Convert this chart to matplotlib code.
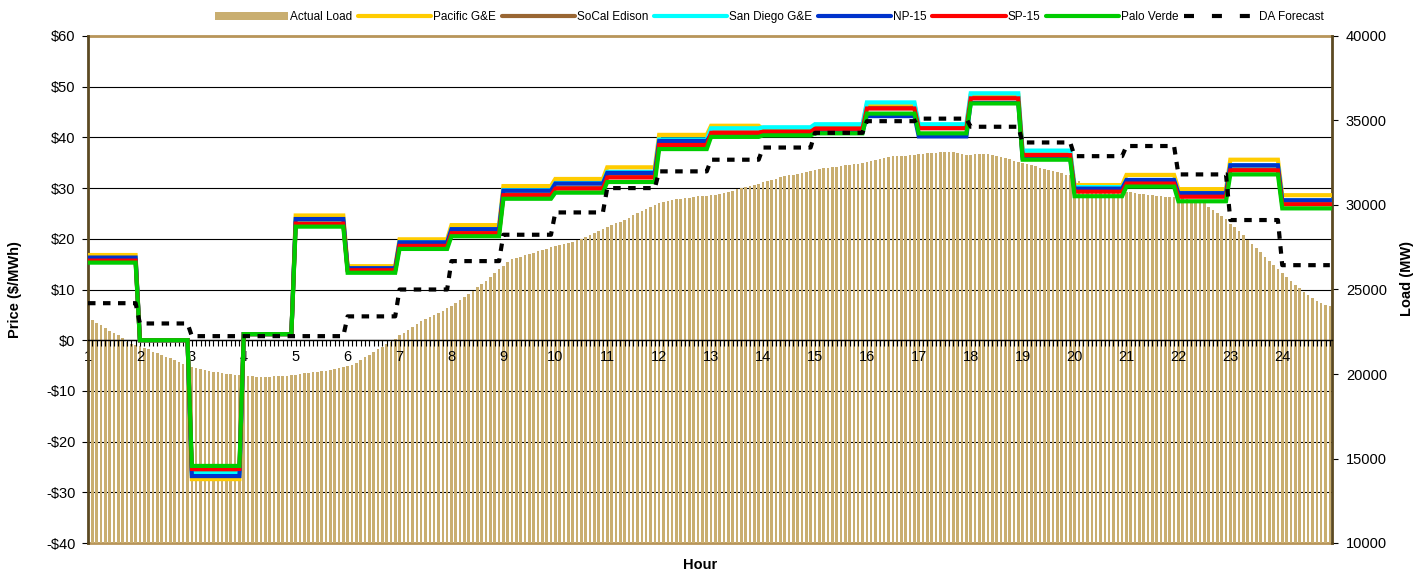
import numpy as np
import matplotlib
matplotlib.use("Agg")
import matplotlib.pyplot as plt
from matplotlib.ticker import FixedLocator, MultipleLocator, FuncFormatter
from matplotlib.lines import Line2D
from matplotlib.patches import Patch

plt.rcParams['font.family'] = ['Liberation Sans', 'DejaVu Sans']

# hourly prices ($/MWh), hour 1..24
hours = list(range(1, 25))
pacific_ge = [16.8, 0.0, -27.4, 1.2, 24.6, 14.6, 19.9, 22.7, 30.4, 31.8, 34.1, 40.5,
              42.3, 41.6, 42.2, 46.5, 42.2, 48.3, 37.0, 30.6, 32.6, 29.8, 35.6, 28.6]
socal_edison = [15.9, 0.0, -25.7, 1.2, 23.2, 13.9, 18.8, 21.3, 28.8, 30.1, 32.3, 38.7,
                41.0, 41.2, 41.8, 45.8, 41.9, 47.8, 36.6, 29.5, 31.1, 28.5, 33.7, 27.0]
san_diego_ge = [16.2, 0.0, -26.3, 1.2, 23.6, 14.1, 19.3, 21.9, 29.6, 31.0, 33.2, 39.6,
                41.8, 42.0, 42.6, 46.9, 42.6, 48.7, 37.4, 30.2, 31.6, 29.0, 34.5, 27.6]
np_15 = [16.3, 0.0, -26.8, 1.2, 23.9, 14.2, 19.3, 21.9, 29.5, 30.9, 33.0, 39.3,
         40.5, 40.8, 41.0, 44.2, 40.2, 46.8, 35.9, 29.9, 31.6, 29.0, 34.5, 27.6]
sp_15 = [15.7, 0.0, -25.4, 1.2, 23.0, 13.8, 18.6, 21.1, 28.6, 29.9, 32.1, 38.5,
         40.9, 41.1, 41.7, 45.7, 41.8, 47.7, 36.5, 29.3, 30.9, 28.3, 33.5, 26.8]
palo_verde = [15.3, 0.0, -24.8, 1.2, 22.4, 13.3, 18.0, 20.5, 27.9, 29.1, 31.2, 37.7,
              40.1, 40.4, 40.8, 44.7, 40.8, 46.7, 35.6, 28.4, 30.3, 27.4, 32.7, 26.0]
da_forecast = [7.3, 3.3, 0.8, 0.8, 0.8, 4.7, 10.0, 15.6, 20.8, 25.2, 30.0, 33.3,
               35.6, 38.0, 40.9, 43.2, 43.7, 42.1, 39.0, 36.3, 38.3, 32.7, 23.7, 14.8]

# actual load (MW), 5-minute intervals, 12 per hour
actual_load = [
    23310, 23200, 23040, 22900, 22700, 22540, 22440, 22310, 22130, 21910, 21800, 21720,
    21660, 21560, 21450, 21330, 21230, 21130, 21030, 20960, 20850, 20730, 20620, 20500,
    20430, 20360, 20300, 20240, 20180, 20140, 20100, 20060, 20020, 19980, 19950, 19920,
    19890, 19870, 19860, 19850, 19840, 19840, 19850, 19860, 19880, 19890, 19900, 19920,
    19960, 20000, 20040, 20080, 20110, 20140, 20170, 20200, 20240, 20290, 20340, 20400,
    20460, 20540, 20650, 20800, 20980, 21130, 21300, 21450, 21600, 21760, 21920, 22100,
    22300, 22450, 22620, 22800, 22980, 23150, 23260, 23360, 23470, 23600, 23730, 23880,
    24030, 24190, 24370, 24540, 24720, 24930, 25130, 25320, 25530, 25760, 26000, 26200,
    26420, 26630, 26780, 26850, 26940, 27040, 27110, 27180, 27250, 27340, 27420, 27500,
    27560, 27630, 27700, 27770, 27830, 27920, 28010, 28100, 28200, 28330, 28440, 28560,
    28690, 28800, 28910, 29000, 29110, 29240, 29380, 29500, 29640, 29770, 29900, 30010,
    30100, 30180, 30250, 30300, 30340, 30380, 30410, 30440, 30480, 30510, 30530, 30560,
    30590, 30620, 30660, 30720, 30790, 30850, 30920, 30990, 31060, 31130, 31200, 31270,
    31350, 31420, 31490, 31560, 31630, 31690, 31750, 31800, 31850, 31900, 31960, 32010,
    32060, 32110, 32160, 32210, 32240, 32270, 32300, 32340, 32370, 32400, 32440, 32500,
    32560, 32610, 32660, 32720, 32790, 32840, 32870, 32890, 32900, 32920, 32940, 32960,
    32990, 33030, 33060, 33090, 33100, 33110, 33120, 33120, 33110, 33060, 33000, 32960,
    32960, 32990, 33010, 33020, 33000, 32970, 32920, 32840, 32780, 32700, 32630, 32560,
    32490, 32420, 32350, 32290, 32210, 32140, 32070, 32010, 31940, 31870, 31800, 31750,
    31480, 31400, 31300, 31200, 31100, 31020, 30970, 30930, 30900, 30880, 30860, 30830,
    30770, 30740, 30720, 30680, 30640, 30610, 30590, 30560, 30530, 30500, 30470, 30450,
    30420, 30400, 30360, 30300, 30240, 30200, 30100, 29900, 29700, 29550, 29350, 29150,
    28900, 28700, 28480, 28230, 27950, 27700, 27450, 27200, 26950, 26700, 26450, 26200,
    25960, 25720, 25500, 25290, 25070, 24860, 24680, 24500, 24340, 24200, 24100, 24000,
]

series = [
    ("Pacific G&E", pacific_ge, "#FFCC00"),
    ("SoCal Edison", socal_edison, "#996633"),
    ("San Diego G&E", san_diego_ge, "#00FFFF"),
    ("NP-15", np_15, "#0033CC"),
    ("SP-15", sp_15, "#FF0000"),
    ("Palo Verde", palo_verde, "#00CC00"),
]
load_color = "#C9AE70"
tan = "#B8955A"
dark = "#5C4A22"

W, H = 1426, 572
fig = plt.figure(figsize=(W / 100, H / 100), dpi=100)
rect = [88 / W, (H - 543) / H, (1332 - 88) / W, (543 - 36) / H]

n = len(actual_load)
t = np.arange(n)
per_hour = n // len(hours)
xlim = (0, n - 0.5)

# grid layer
axg = fig.add_axes(rect)
axg.set_xlim(*xlim)
axg.set_ylim(-40, 60)
axg.set_yticks(np.arange(-40, 61, 10))
axg.grid(axis='y', color='black', lw=0.8)
axg.tick_params(left=False, bottom=False, labelleft=False, labelbottom=False)
for s in ['left', 'right']:
    axg.spines[s].set_visible(False)
for s in ['top', 'bottom']:
    axg.spines[s].set_color(tan)
    axg.spines[s].set_linewidth(2)

# load bars on right axis
axl = fig.add_axes(rect)
axl.patch.set_visible(False)
axl.bar(t, actual_load, width=0.6, color=load_color, linewidth=0)
axl.set_xlim(*xlim)
axl.set_ylim(10000, 40000)
axl.yaxis.tick_right()
axl.set_yticks(np.arange(10000, 40001, 5000))
axl.tick_params(axis='y', direction='out', length=4, labelsize=10.5, pad=6)
axl.tick_params(axis='x', bottom=False, labelbottom=False)
for s in ['left', 'top', 'bottom']:
    axl.spines[s].set_visible(False)
axl.spines['right'].set_color(dark)
axl.spines['right'].set_linewidth(2)

# prices on left axis
axp = fig.add_axes(rect)
axp.patch.set_visible(False)
for name, vals, col in series:
    axp.plot(t, np.repeat(vals, per_hour), color=col, lw=3, zorder=3,
             solid_joinstyle='miter')
axp.plot(t, np.repeat(da_forecast, per_hour), color='black', lw=3, zorder=4,
         dashes=(1.8, 1.8), dash_capstyle='butt')
axp.set_xlim(*xlim)
axp.set_ylim(-40, 60)
axp.set_yticks(np.arange(-40, 61, 10))
axp.yaxis.set_major_formatter(FuncFormatter(
    lambda v, p: f"${v:.0f}" if v >= 0 else f"-${-v:.0f}"))
axp.tick_params(axis='y', direction='out', length=4, labelsize=10.5, pad=5)

axp.xaxis.set_major_locator(FixedLocator(t[::per_hour]))
axp.set_xticklabels([str(h) for h in hours])
axp.xaxis.set_minor_locator(MultipleLocator(1))
axp.tick_params(axis='x', which='both', direction='out', length=4, width=0.8,
                labelsize=10.5, pad=3)
axp.spines['bottom'].set_position(('data', 0))
axp.spines['bottom'].set_color('black')
axp.spines['bottom'].set_linewidth(1)
axp.spines['top'].set_visible(False)
axp.spines['right'].set_visible(False)
axp.spines['left'].set_color(dark)
axp.spines['left'].set_linewidth(2)

fig.text(15 / W, 1 - 290 / H, "Price ($/MWh)", rotation=90, ha='center', va='center',
         fontsize=10.5, fontweight='bold')
fig.text(1407 / W, 1 - 278 / H, "Load (MW)", rotation=90, ha='center', va='center',
         fontsize=10.5, fontweight='bold')
fig.text(700 / W, 1 - 565 / H, "Hour", ha='center', va='center',
         fontsize=10.5, fontweight='bold')

handles = [Patch(facecolor=load_color, edgecolor='none')]
labels = ["Actual Load"]
for name, vals, col in series:
    handles.append(Line2D([0], [0], color=col, lw=3, solid_capstyle='round'))
    labels.append(name)
handles.append(Line2D([0], [0], color='black', lw=3, dashes=(2.4, 4.3)))
labels.append("DA Forecast")
fig.legend(handles, labels, loc='center left', bbox_to_anchor=(215 / W, 1 - 17 / H),
           ncol=8, frameon=False, fontsize=8.5, handlelength=6.2, handletextpad=0.15,
           columnspacing=0.5, borderpad=0, borderaxespad=0)

fig.savefig("out.png", dpi=100)
